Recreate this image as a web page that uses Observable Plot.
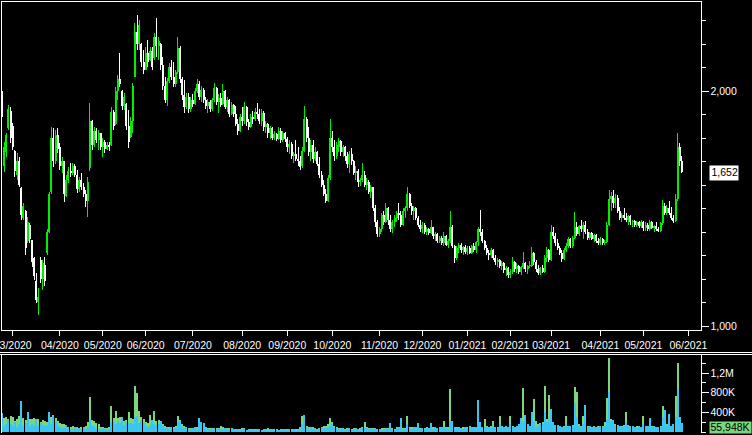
<!DOCTYPE html>
<html><head><meta charset="utf-8">
<script src="https://cdn.jsdelivr.net/npm/d3@7"></script>
<script src="https://cdn.jsdelivr.net/npm/@observablehq/plot@0.6"></script>
<style>
html,body{margin:0;padding:0;background:#000;}
#wrap{position:relative;width:752px;height:435px;overflow:hidden;background:#000;}
#main{position:absolute;left:0;top:0;}
#vol{position:absolute;left:0;top:354px;}
.sep{position:absolute;left:0;width:752px;height:1px;background:#fff;}
</style></head><body>
<div id="wrap"><div id="main"></div><div id="vol"></div><div class="sep" style="top:352px"></div><div class="sep" style="top:354px"></div></div>
<script>
// month tick labels and the trading-day index of each month's first session
const monthLabels = ["03/2020","04/2020","05/2020","06/2020","07/2020","08/2020","09/2020","10/2020","11/2020","12/2020","01/2021","02/2021","03/2021","04/2021","05/2021","06/2021"];
const monthStartIdx = [5,27,47,67,89,112,133,154,176,196,217,237,256,279,299,320];

const open = [
2000,1680,1740,1840,1915,1850,1745,1640,1700,1585,
1460,1490,1360,1430,1365,1290,1190,1100,1280,1200,
1260,1310,1400,1570,1800,1700,1810,1760,1680,1700,
1550,1620,1660,1650,1680,1640,1580,1620,1590,1560,
1530,1670,1870,1770,1830,1790,1820,1760,1780,1750,
1770,1770,1910,1860,2000,2050,2000,1935,1945,1850,
1805,1870,2060,2250,2200,2200,2120,2090,2160,2130,
2170,2140,2230,2190,2200,2110,2020,1960,2040,2100,
2060,2030,2080,2180,2050,1980,1930,1975,1920,1960,
1945,2000,2030,1975,2005,1960,1935,1950,1920,1960,
2010,1950,1970,1945,2000,1930,1960,1900,1940,1900,
1860,1830,1890,1870,1930,1865,1845,1890,1880,1910,
1900,1870,1905,1845,1860,1820,1840,1800,1815,1795,
1830,1790,1820,1795,1760,1775,1720,1730,1710,1700,
1680,1745,1880,1800,1740,1770,1710,1740,1690,1640,
1600,1560,1530,1630,1800,1760,1720,1760,1785,1740,
1760,1720,1690,1730,1700,1650,1660,1610,1620,1640,
1600,1610,1570,1590,1500,1440,1390,1410,1470,1440,
1500,1450,1410,1440,1460,1480,1470,1430,1490,1500,
1560,1510,1490,1500,1460,1430,1410,1430,1400,1410,
1395,1420,1380,1390,1360,1375,1350,1380,1345,1360,
1420,1340,1290,1330,1345,1320,1335,1315,1330,1310,
1340,1320,1355,1410,1400,1360,1330,1310,1300,1320,
1290,1270,1280,1255,1265,1235,1245,1215,1230,1270,
1240,1255,1230,1250,1265,1240,1255,1255,1310,1270,
1240,1225,1245,1230,1290,1320,1280,1400,1380,1350,
1330,1310,1285,1320,1340,1370,1340,1375,1420,1390,
1425,1410,1430,1400,1375,1395,1370,1385,1360,1350,
1370,1350,1355,1430,1540,1550,1520,1545,1490,1460,
1470,1460,1450,1465,1440,1445,1430,1440,1425,1440,
1415,1430,1410,1440,1415,1425,1410,1405,1435,1510,
1480,1500,1480,1460,1445,1540,1760,1700];
const high = [
2011,1781,1820,1939,1931,1862,1747,1734,1717,1589,
1522,1492,1462,1437,1365,1292,1224,1160,1292,1280,
1292,1410,1568,1845,1840,1833,1841,1777,1717,1700,
1641,1675,1692,1692,1690,1662,1632,1649,1607,1577,
1632,1947,1875,1845,1841,1833,1820,1798,1790,1781,
1781,1931,1918,2015,2066,2160,2005,1990,1947,1918,
1888,2032,2288,2322,2300,2203,2173,2185,2215,2185,
2185,2245,2309,2228,2203,2143,2058,2053,2117,2130,
2122,2090,2228,2190,2060,2045,1990,1990,1975,1985,
2010,2049,2040,2020,2010,1973,1965,1960,1970,2032,
2015,1985,1990,2028,2005,1973,1965,1950,1945,1935,
1880,1900,1930,1952,1935,1880,1900,1915,1925,1947,
1920,1920,1915,1870,1862,1850,1845,1830,1820,1845,
1840,1830,1825,1803,1790,1780,1740,1790,1760,1720,
1760,1935,1890,1845,1790,1790,1760,1745,1717,1660,
1620,1580,1640,1878,1830,1790,1780,1800,1790,1770,
1765,1740,1745,1755,1705,1680,1665,1630,1692,1660,
1630,1620,1600,1592,1512,1450,1420,1480,1490,1522,
1505,1470,1450,1470,1490,1522,1490,1500,1510,1590,
1565,1522,1510,1505,1465,1450,1440,1435,1420,1415,
1450,1420,1400,1395,1380,1380,1400,1385,1370,1488,
1430,1345,1340,1352,1350,1340,1345,1340,1340,1345,
1352,1360,1420,1492,1410,1365,1345,1320,1330,1325,
1300,1290,1285,1275,1270,1255,1250,1240,1294,1275,
1265,1260,1255,1315,1270,1260,1275,1335,1315,1280,
1260,1250,1260,1300,1335,1325,1428,1420,1394,1370,
1340,1322,1330,1350,1377,1375,1380,1484,1440,1430,
1450,1440,1445,1410,1400,1399,1390,1390,1375,1377,
1375,1365,1440,1577,1570,1577,1560,1555,1505,1480,
1500,1480,1470,1470,1450,1450,1445,1445,1450,1445,
1440,1435,1450,1445,1430,1440,1420,1440,1534,1520,
1515,1530,1505,1470,1560,1820,1777,1720];
const low = [
1875,1654,1717,1833,1778,1747,1632,1619,1589,1450,
1450,1301,1352,1352,1250,1194,1096,1046,1180,1152,
1170,1300,1395,1560,1675,1690,1734,1662,1649,1526,
1547,1607,1632,1640,1632,1564,1568,1577,1547,1505,
1462,1660,1747,1760,1777,1747,1747,1717,1734,1747,
1743,1765,1833,1855,1960,2015,1918,1918,1833,1756,
1800,1820,2058,2173,2173,2100,2070,2088,2100,2125,
2088,2130,2143,2130,2088,2002,1947,1935,2032,2045,
2015,2015,2070,2032,1960,1905,1920,1905,1910,1930,
1940,1990,1960,1950,1947,1920,1905,1910,1915,1950,
1940,1905,1930,1940,1920,1910,1888,1895,1890,1850,
1811,1825,1850,1860,1850,1833,1840,1860,1870,1880,
1860,1850,1830,1820,1800,1795,1790,1790,1785,1790,
1777,1780,1780,1740,1730,1710,1692,1700,1680,1662,
1670,1740,1780,1720,1700,1692,1700,1680,1630,1590,
1550,1522,1525,1620,1740,1700,1710,1740,1720,1717,
1700,1670,1650,1683,1640,1620,1590,1595,1610,1590,
1577,1560,1543,1490,1420,1377,1377,1400,1430,1435,
1430,1400,1394,1420,1440,1450,1420,1425,1460,1490,
1500,1470,1450,1450,1420,1400,1395,1390,1386,1386,
1390,1370,1360,1352,1352,1345,1340,1340,1330,1350,
1330,1267,1280,1310,1310,1301,1305,1301,1305,1305,
1315,1310,1340,1380,1350,1320,1300,1280,1290,1280,
1260,1250,1245,1237,1225,1210,1205,1203,1220,1230,
1225,1220,1216,1240,1230,1220,1245,1250,1260,1230,
1216,1216,1225,1225,1270,1270,1275,1370,1340,1320,
1300,1271,1280,1313,1330,1330,1330,1370,1380,1380,
1400,1370,1390,1365,1365,1365,1355,1350,1343,1343,
1343,1343,1350,1425,1490,1500,1500,1480,1450,1441,
1450,1440,1430,1430,1420,1420,1420,1415,1415,1405,
1405,1405,1405,1410,1400,1405,1399,1400,1430,1470,
1470,1470,1450,1437,1440,1530,1680,1650];
const close = [
1890,1760,1810,1920,1800,1760,1660,1700,1600,1470,
1510,1330,1440,1370,1270,1210,1110,1120,1200,1265,
1190,1400,1560,1800,1700,1810,1750,1680,1700,1560,
1620,1660,1650,1680,1640,1580,1620,1590,1560,1530,
1610,1870,1770,1830,1790,1820,1760,1780,1750,1770,
1760,1910,1850,2000,2050,2030,1935,1975,1850,1780,
1870,2020,2250,2200,2280,2120,2090,2160,2120,2170,
2100,2230,2190,2210,2110,2020,1960,2040,2100,2060,
2030,2080,2180,2050,1980,1930,1975,1920,1960,1945,
2000,2030,1975,2005,1960,1935,1950,1920,1960,2010,
1950,1970,1940,2000,1930,1960,1900,1940,1900,1860,
1830,1890,1870,1930,1865,1845,1890,1880,1910,1900,
1870,1905,1845,1860,1820,1840,1800,1815,1795,1830,
1790,1820,1795,1760,1775,1720,1730,1710,1700,1675,
1745,1880,1800,1740,1770,1710,1740,1690,1640,1600,
1560,1530,1630,1800,1760,1720,1770,1785,1740,1760,
1720,1690,1730,1700,1650,1660,1610,1620,1640,1600,
1610,1570,1590,1500,1440,1390,1410,1470,1440,1500,
1450,1410,1440,1460,1480,1470,1430,1490,1500,1560,
1510,1490,1500,1460,1430,1410,1430,1400,1410,1395,
1420,1380,1390,1360,1375,1350,1380,1345,1360,1420,
1340,1290,1330,1345,1320,1335,1315,1330,1310,1340,
1320,1355,1410,1400,1360,1330,1310,1300,1320,1290,
1270,1280,1255,1265,1235,1245,1215,1230,1270,1240,
1255,1230,1250,1265,1240,1255,1260,1310,1270,1240,
1225,1245,1230,1290,1320,1280,1400,1380,1350,1330,
1310,1285,1320,1340,1370,1340,1375,1420,1390,1425,
1410,1430,1400,1375,1395,1370,1385,1360,1350,1370,
1350,1355,1430,1540,1550,1520,1545,1490,1460,1470,
1460,1450,1465,1440,1445,1430,1440,1425,1440,1415,
1430,1410,1440,1415,1425,1410,1405,1435,1510,1480,
1500,1480,1460,1445,1540,1760,1700,1652];

// volume in thousands: green series and cyan series
const volGreen = [
250,280,300,180,320,300,220,260,310,200,
270,240,180,260,250,280,230,260,200,240,
210,190,250,300,320,280,220,180,160,150,
120,100,90,110,80,100,70,90,80,110,
200,710,240,220,180,150,100,90,80,70,
90,520,280,425,280,300,260,220,240,405,
280,250,928,793,420,300,260,200,180,330,
200,425,220,240,200,160,120,100,90,80,
100,120,316,200,150,120,100,80,70,60,
80,90,100,120,150,100,80,70,60,70,
80,60,110,90,60,70,80,60,50,60,
50,60,70,50,40,50,60,40,50,60,
50,40,60,50,70,50,40,60,50,40,
50,60,40,50,60,50,40,50,60,90,
316,200,120,90,80,100,70,60,80,90,
110,120,150,275,200,120,90,80,70,60,
60,70,50,60,70,60,50,80,90,200,
90,70,60,80,70,60,50,70,80,60,
70,100,80,60,90,80,120,70,80,316,
100,90,80,60,110,70,60,80,90,70,
100,90,80,70,90,80,220,100,90,867,
150,100,90,80,70,90,80,100,120,70,
90,80,150,120,100,250,110,90,120,220,
100,90,316,120,100,110,90,316,120,100,
110,120,150,894,160,140,120,150,663,220,
150,180,200,935,250,745,200,150,120,110,
100,90,110,316,120,100,130,908,799,150,
120,316,200,110,100,90,120,100,110,90,
120,200,674,1494,250,200,150,120,100,110,
130,398,140,110,100,90,120,100,90,316,
100,90,120,110,100,90,80,120,520,200,
150,130,120,160,724,1404,200,150];
const volCyan = [
384,120,160,255,150,120,200,100,150,622,
110,170,398,120,160,130,250,120,180,140,
120,130,405,160,330,200,120,100,80,70,
130,80,60,60,90,50,80,60,90,50,
100,240,120,110,80,60,50,70,60,50,
60,200,200,160,220,180,300,130,200,170,
180,150,300,316,180,220,170,120,100,130,
230,150,140,150,210,120,80,70,60,90,
70,80,200,240,100,70,90,60,50,70,
90,60,270,200,180,70,60,50,70,50,
50,80,60,50,70,50,60,70,50,40,
60,40,50,70,40,60,40,50,30,50,
60,40,30,60,40,60,50,30,60,40,
30,50,60,30,50,40,60,30,40,60,
150,330,90,60,90,50,80,60,50,70,
70,80,90,110,150,90,80,60,50,70,
40,60,70,40,50,70,50,40,70,80,
70,50,70,50,80,60,50,40,60,70,
60,180,60,50,70,90,275,60,50,150,
80,60,90,100,180,50,70,50,70,80,
180,60,90,70,70,90,100,70,60,220,
220,80,70,100,80,60,100,70,90,90,
70,90,643,200,100,100,90,80,80,120,
90,80,150,90,90,110,100,150,100,90,
120,150,270,200,330,150,110,405,200,90,
120,150,160,405,200,250,459,200,140,130,
110,90,90,150,120,110,110,582,300,110,
100,150,541,100,110,90,90,100,100,110,
100,110,250,806,220,240,140,130,110,100,
110,200,110,100,120,90,80,110,90,150,
110,110,275,90,120,90,90,100,300,435,
140,350,120,150,300,867,290,180];

const priceTicks = [1000,1100,1200,1300,1400,1500,1600,1700,1800,1900,2000,2100,2200,2300];
const priceLabelTicks = [1000,2000];
const volTicks = [0,200000,400000,600000,800000,1000000,1200000,1400000];
const volLabelTicks = [400000,800000,1200000];
const lastVolumeLabel = "55,948K";

const UP = "#00ee00", DOWN = "#ffffff", VGREEN = "#7cd67c", VCYAN = "#38c6f4";
const FONT = "'Liberation Sans', Arial, sans-serif";

const rows = close.map((c, i) => ({i, o: open[i], h: high[i], l: low[i], c}));
const vrows = volGreen.map((g, i) => ({i, g: g * 1000, b: volCyan[i] * 1000}));
const labelOf = new Map(monthStartIdx.map((d, k) => [d, monthLabels[k]]));
const xDomain = [-0.23, 326.1];
const col = d => d.c >= d.o ? UP : DOWN;
const fmtComma = d3.format(",");
const volFmt = d => d >= 1e6 ? String(d / 1e6).replace(".", ",") + "M" : (d / 1000) + "K";

// a rectangle-shaped symbol: starts x0 px right of the anchor, w wide, h tall, vertically centred
const boxSymbol = (x0, w, h) => ({
  draw(ctx) {
    ctx.moveTo(x0, -h / 2); ctx.lineTo(x0 + w, -h / 2);
    ctx.lineTo(x0 + w, h / 2); ctx.lineTo(x0, h / 2); ctx.closePath();
  }
});

const lastClose = close[close.length - 1];

const main = Plot.plot({
  width: 752, height: 353,
  marginLeft: 1, marginRight: 51, marginTop: 1, marginBottom: 23,
  style: {background: "#000", color: "#fff", fontFamily: FONT, fontSize: "10.5px", overflow: "visible"},
  x: {type: "linear", domain: xDomain, axis: null, label: null},
  y: {type: "linear", domain: [981.7, 2381.7], axis: null, label: null},
  marks: [
    Plot.ruleX(rows, {x: "i", y1: "l", y2: "h", stroke: col, strokeWidth: 1, shapeRendering: "crispEdges"}),
    Plot.ruleX(rows, {x: "i", y1: "o", y2: "c", stroke: col, strokeWidth: 2, shapeRendering: "crispEdges"}),
    Plot.frame({stroke: "#fff", shapeRendering: "crispEdges"}),
    Plot.axisY(priceTicks, {anchor: "right", label: null, tickSize: 4, tickFormat: () => "", shapeRendering: "crispEdges"}),
    Plot.axisY(priceLabelTicks, {anchor: "right", label: null, tickSize: 7, tickPadding: 2, tickFormat: fmtComma, shapeRendering: "crispEdges"}),
    Plot.axisX(monthStartIdx, {anchor: "bottom", label: null, tickSize: 6, tickPadding: 5.5, tickFormat: d => labelOf.get(d), shapeRendering: "crispEdges"}),
    Plot.dot([lastClose], {y: d => d, frameAnchor: "right", symbol: boxSymbol(8, 29, 15), r: 5, fill: "#fff", stroke: null}),
    Plot.text([lastClose], {y: d => d, frameAnchor: "right", dx: 10, textAnchor: "start", text: d => fmtComma(d), fill: "#000"})
  ]
});

const vol = Plot.plot({
  width: 752, height: 81,
  marginLeft: 1, marginRight: 51, marginTop: 0.5, marginBottom: 3.5,
  style: {background: "#000", color: "#fff", fontFamily: FONT, fontSize: "10.5px", overflow: "visible"},
  x: {type: "linear", domain: xDomain, axis: null, label: null},
  y: {type: "linear", domain: [0, 1571400], axis: null, label: null},
  marks: [
    Plot.ruleX(vrows, {x: "i", y1: 0, y2: "g", stroke: VGREEN, strokeWidth: 2, shapeRendering: "crispEdges"}),
    Plot.ruleX(vrows, {x: "i", y1: 0, y2: "b", stroke: VCYAN, strokeWidth: 2, shapeRendering: "crispEdges"}),
    Plot.frame({anchor: "left", stroke: "#fff", shapeRendering: "crispEdges"}),
    Plot.frame({anchor: "right", stroke: "#fff", shapeRendering: "crispEdges"}),
    Plot.axisY(volTicks, {anchor: "right", label: null, tickSize: 4, tickFormat: () => "", shapeRendering: "crispEdges"}),
    Plot.axisY(volLabelTicks, {anchor: "right", label: null, tickSize: 7, tickPadding: 2, tickFormat: volFmt, shapeRendering: "crispEdges"}),
    Plot.dot([lastVolumeLabel], {frameAnchor: "bottom-right", dy: -4.5, symbol: boxSymbol(8, 42, 12), r: 5, fill: VGREEN, stroke: null}),
    Plot.text([lastVolumeLabel], {frameAnchor: "bottom-right", dx: 9, dy: -4.5, textAnchor: "start", lineAnchor: "middle", text: d => d, fill: "#000"})
  ]
});

document.getElementById("main").appendChild(main);
document.getElementById("vol").appendChild(vol);
</script>
</body></html>
